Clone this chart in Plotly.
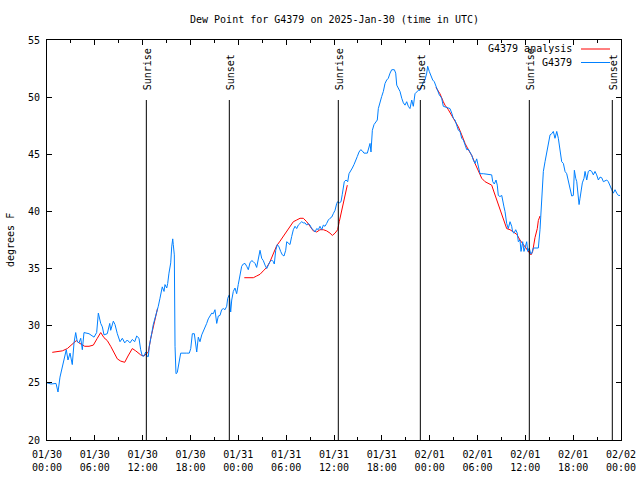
import pandas as pd
import plotly.graph_objects as go

# ---------------- data (hours after 2025-01-30 00:00 UTC) ----------------
base = pd.Timestamp("2025-01-30 00:00")

obs_hours = [0.0,0.50,1.13,1.38,1.63,1.92,2.22,2.42,2.63,2.89,3.17,3.39,3.60,3.80,4.01,4.23,4.43,4.64,5.27,5.90,
             6.23,6.44,6.74,6.94,7.15,7.56,7.87,7.99,8.32,8.53,8.82,9.16,9.45,9.75,10.07,10.41,10.70,11.00,11.25,11.54,
             11.75,11.95,12.17,12.38,12.58,12.71,12.83,13.01,13.13,13.33,13.55,13.76,13.96,14.17,14.30,14.46,14.68,14.80,15.02,15.14,
             15.30,15.52,15.64,15.77,15.84,15.97,16.06,16.18,16.34,16.60,16.77,17.52,17.85,18.03,18.23,18.48,18.65,18.78,18.98,19.19,
             19.41,19.61,19.82,20.03,20.23,20.45,20.66,20.86,21.07,21.29,21.49,21.70,21.91,22.12,22.33,22.54,22.67,22.87,23.04,23.17,
             23.37,23.58,23.79,23.99,24.21,24.42,24.62,24.84,25.05,25.25,25.46,25.68,25.88,26.09,26.30,26.50,26.72,26.93,27.13,27.35,
             27.56,27.76,27.97,28.18,28.39,28.51,28.69,28.89,29.10,29.31,29.52,29.73,29.94,30.07,30.27,30.48,30.69,30.90,31.11,31.32,
             31.52,31.74,31.95,32.15,32.36,32.58,32.78,32.99,33.20,33.40,33.62,33.83,34.03,34.24,34.46,34.66,34.87,35.08,35.29,35.50,
             35.71,35.91,36.13,36.34,36.46,36.66,36.88,37.04,37.29,37.51,37.72,37.88,38.09,38.30,38.51,38.72,38.92,39.14,39.35,39.55,
             39.76,40.18,40.39,40.52,40.64,40.81,41.02,41.23,41.43,41.56,41.77,41.98,42.19,42.40,42.61,42.81,43.03,43.24,43.57,43.74,
             43.87,44.07,44.28,44.50,44.70,44.91,45.12,45.32,45.53,45.75,45.95,46.16,46.37,46.58,46.79,47.00,47.20,47.41,47.63,47.75,
             47.95,48.17,48.38,48.58,48.79,49.01,49.21,49.42,49.51,49.71,50.14,50.55,50.77,50.97,51.18,51.40,51.60,51.81,52.02,52.23,
             52.44,52.65,52.85,53.06,53.28,53.48,53.69,53.90,54.10,54.31,54.73,55.57,55.78,55.91,56.11,56.32,56.48,56.61,56.82,57.04,
             57.16,57.32,57.45,57.66,57.86,58.08,58.29,58.41,58.58,58.79,58.99,59.12,59.33,59.46,59.67,59.83,60.00,60.17,60.30,60.50,
             60.67,60.80,61.00,61.63,61.84,62.05,62.26,62.47,62.68,62.88,63.10,63.31,63.51,63.72,63.94,64.14,64.35,64.56,64.77,64.98,
             65.19,65.40,65.61,65.82,66.02,66.15,66.32,66.45,66.58,66.74,66.86,66.99,67.15,67.36,67.49,67.70,67.90,68.11,68.33,68.53,
             68.74,68.95,69.16,69.37,69.58,69.79,70.00,70.21,70.41,70.62,70.84,71.04,71.25,71.46,71.67,71.88]
obs_dew = [25.0,24.9,24.95,24.2,25.5,26.4,27.4,27.9,27.0,27.6,26.6,28.5,29.4,28.6,28.5,28.9,27.9,29.4,29.3,29.0,
           29.4,31.1,30.2,29.9,29.2,29.3,30.2,29.6,30.4,30.1,29.3,28.6,28.9,28.5,28.75,28.5,28.8,28.6,29.1,28.9,
           27.9,27.35,27.35,27.7,27.3,27.3,28.2,28.75,29.3,30.1,30.6,31.2,31.7,32.4,32.8,33.4,33.0,33.6,33.3,33.7,
           34.6,35.5,36.9,37.6,37.1,36.2,28.2,25.8,25.9,27.1,27.6,27.6,27.6,28.0,29.3,29.3,28.2,27.7,29.0,28.6,
           29.2,29.5,29.9,30.2,30.6,30.9,31.1,31.05,31.4,30.2,30.85,30.9,31.4,31.5,31.4,31.7,32.4,32.7,31.2,32.25,
           33.0,33.3,32.8,33.6,34.3,35.2,35.4,35.45,35.2,34.9,35.5,35.7,35.6,35.45,35.1,36.0,36.6,35.9,35.7,35.3,
           35.0,35.3,35.6,35.75,35.6,35.4,36.6,37.1,36.9,36.5,36.2,36.1,36.6,37.35,37.2,37.1,37.8,38.4,38.7,38.5,
           38.8,38.95,39.1,39.0,39.0,38.8,38.95,38.8,38.5,38.4,38.2,38.5,38.4,38.7,38.4,38.8,38.7,38.95,39.25,39.4,
           39.5,39.8,40.1,40.7,40.85,40.75,40.85,41.5,42.6,42.75,42.6,43.3,43.5,43.8,44.1,44.4,44.8,45.2,45.4,45.3,
           45.1,45.1,45.8,45.95,45.2,47.1,47.6,47.85,48.0,49.0,49.6,50.05,50.5,51.2,51.5,51.65,52.1,52.4,52.4,52.1,
           51.05,50.8,50.5,49.9,49.5,49.3,49.6,49.2,49.0,49.75,49.2,50.3,50.5,50.6,50.6,50.9,51.35,51.5,52.1,52.7,
           52.25,51.8,51.5,51.35,50.9,50.6,50.2,50.0,49.9,49.2,49.1,49.0,48.6,48.15,48.0,47.4,47.1,47.0,46.4,46.25,
           45.7,45.4,45.45,45.2,44.9,44.5,44.2,44.6,43.9,43.3,43.3,43.25,43.2,42.6,42.4,42.75,42.3,41.4,41.3,41.4,
           40.85,40.4,40.0,38.95,38.5,39.1,38.7,38.2,38.1,38.4,38.1,37.35,37.5,36.5,37.35,36.5,36.9,37.35,36.5,36.8,
           36.3,36.3,36.8,36.8,38.4,40.85,43.5,44.35,45.2,45.95,46.7,46.8,47.0,46.4,47.0,46.4,45.5,44.35,44.2,43.5,
           43.3,42.6,41.9,41.35,41.4,43.6,42.9,42.6,41.7,40.6,41.15,41.9,42.5,42.9,43.5,42.75,43.5,43.6,43.5,43.2,
           43.5,43.2,42.75,43.0,42.95,42.6,42.7,42.75,42.6,42.2,41.9,41.6,41.9,41.6,41.4,41.4]

# analysis series; None marks the gaps between analysed stretches
ana_hours = [0.66,1.29,1.92,2.55,3.17,3.68,4.01,4.43,4.73,5.27,5.81,6.31,6.74,7.15,7.56,7.99,8.40,8.82,9.25,9.75,
             10.16,10.70,11.13,11.75,12.17,12.51,12.71,13.01,13.26,13.55,13.76,13.86,
             19.0,
             24.75,25.88,26.30,26.72,27.13,27.56,27.97,28.39,28.81,29.23,29.64,30.07,30.48,30.90,31.32,31.74,32.15,32.58,32.99,
             33.40,33.83,34.24,34.66,35.08,35.50,35.79,36.13,36.46,36.66,36.88,37.09,37.29,37.47,37.67,
             43.0,
             48.79,49.29,49.71,49.92,50.34,50.77,51.18,51.60,52.02,52.44,52.85,53.28,53.69,54.10,54.53,54.95,55.36,55.78,56.07,56.41,
             56.82,57.24,57.66,58.08,58.50,58.92,59.33,59.75,60.17,60.50,60.71,60.92,61.21,61.50,61.63,61.84]
ana_dew = [27.67,27.75,27.8,28.0,28.4,28.7,28.5,28.3,28.2,28.2,28.3,28.9,29.4,28.95,28.7,28.2,27.6,27.1,26.9,26.8,
           27.35,28.0,27.8,27.45,27.35,27.6,27.7,28.9,29.6,30.6,31.2,31.5,
           None,
           34.2,34.2,34.35,34.5,34.8,35.1,35.6,36.3,37.0,37.4,37.8,38.2,38.7,39.1,39.25,39.4,39.4,39.1,38.7,
           38.3,38.2,38.4,38.4,38.3,38.1,37.9,38.1,38.4,39.1,39.8,40.4,41.05,41.6,42.3,
           None,
           50.85,50.3,49.6,49.3,48.9,48.4,48.0,47.4,46.7,45.95,45.4,44.9,44.2,43.6,42.9,42.6,42.45,42.3,41.7,41.0,
           40.1,39.25,38.5,38.4,38.2,38.0,37.5,37.1,36.8,36.4,36.2,36.5,37.7,38.5,39.2,39.6]

sun_hours = [12.46, 22.87, 36.54, 46.83, 60.50, 70.91]
sun_labels = ["Sunrise", "Sunset", "Sunrise", "Sunset", "Sunrise", "Sunset"]

series_names = ["G4379 analysis", "G4379"]
series_colors = ["#ff0000", "#0080ff"]

title_text = "Dew Point for G4379 on 2025-Jan-30 (time in UTC)"
y_label = "degrees F"

# ---------------- build ----------------
def to_time(hours):
    return [base + pd.Timedelta(hours=h) for h in hours]

FONT = dict(family="DejaVu Sans Mono", size=10, color="black")

fig = go.Figure()
fig.add_trace(go.Scatter(x=to_time(ana_hours), y=ana_dew, mode="lines",
                         line=dict(color=series_colors[0], width=1), connectgaps=False,
                         name=series_names[0], showlegend=False))
fig.add_trace(go.Scatter(x=to_time(obs_hours), y=obs_dew, mode="lines",
                         line=dict(color=series_colors[1], width=1),
                         name=series_names[1], showlegend=False))

shapes = []
annotations = []
for h, lab in zip(sun_hours, sun_labels):
    t = base + pd.Timedelta(hours=h)
    shapes.append(dict(type="line", xref="x", yref="paper", x0=t, x1=t, y0=0, y1=0.85,
                       line=dict(color="black", width=1)))
    annotations.append(dict(x=t, y=0.87, xref="x", yref="paper", text=lab, textangle=-90,
                            showarrow=False, xanchor="center", yanchor="bottom", xshift=1,
                            font=FONT))

# manual gnuplot-style legend (text right, sample line to the right of text)
W, H = 574.0, 400.0
for i, (nm, col) in enumerate(zip(series_names, series_colors)):
    py = 49 + 13.5 * i
    yp = (440 - py) / H
    annotations.append(dict(x=(574 - 47) / W, y=yp, xref="paper", yref="paper", text=nm,
                            showarrow=False, xanchor="right", yanchor="middle", font=FONT))
    shapes.append(dict(type="line", xref="paper", yref="paper",
                       x0=(581 - 47) / W, x1=(610 - 47) / W, y0=yp, y1=yp,
                       line=dict(color=col, width=1)))

annotations.append(dict(x=(10 - 47) / W, y=0.5, xref="paper", yref="paper", text=y_label,
                        textangle=-90, showarrow=False, xanchor="center", yanchor="middle",
                        font=FONT))
annotations.append(dict(x=0.5, y=(440 - 19) / H, xref="paper", yref="paper", text=title_text,
                        showarrow=False, xanchor="center", yanchor="middle", font=FONT))

fig.update_layout(
    width=640, height=480,
    margin=dict(l=47, r=19, t=40, b=40, pad=0, autoexpand=False),
    paper_bgcolor="white", plot_bgcolor="white",
    font=FONT,
    shapes=shapes, annotations=annotations,
    showlegend=False,
    hovermode=False,
)
fig.update_xaxes(
    type="date",
    range=[base, base + pd.Timedelta(hours=72)],
    tick0=base, dtick=6 * 3600 * 1000,
    tickformat="%m/%d<br>%H:%M",
    ticks="inside", ticklen=5, tickcolor="black", tickwidth=1,
    minor=dict(ticks="inside", ticklen=3, dtick=3 * 3600 * 1000, tick0=base, tickcolor="black"),
    showline=True, linecolor="black", linewidth=1, mirror="allticks",
    showgrid=False, zeroline=False, tickfont=FONT, ticklabelstandoff=5, automargin=False,
)
fig.update_yaxes(
    range=[20, 55], dtick=5, tick0=20,
    ticks="inside", ticklen=5, tickcolor="black", tickwidth=1,
    showline=True, linecolor="black", linewidth=1, mirror="allticks",
    showgrid=False, zeroline=False, tickfont=FONT, ticklabelstandoff=4, automargin=False,
)

fig.write_html("out.html", config={"displayModeBar": False, "staticPlot": True},
               post_script="document.body.style.margin='0';document.body.style.padding='0';")
